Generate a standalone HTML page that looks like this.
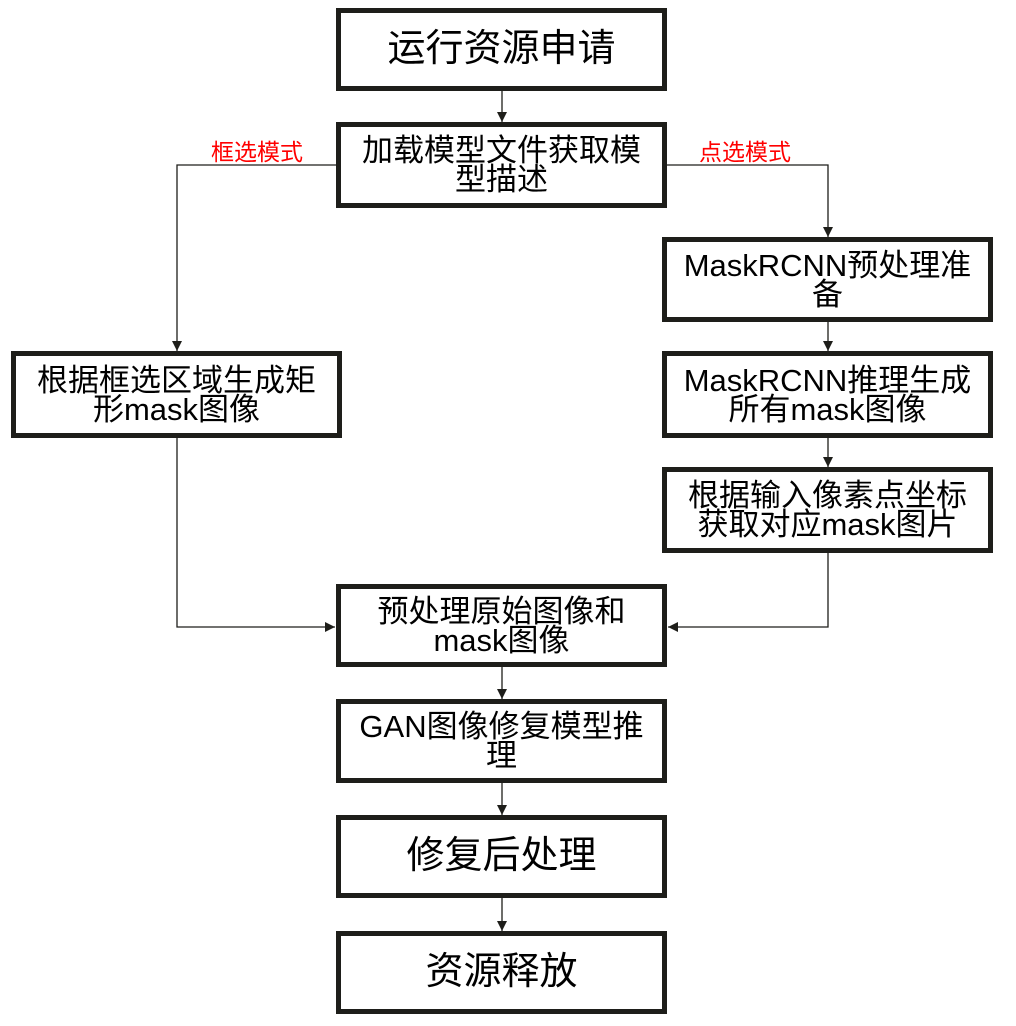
<!DOCTYPE html>
<html><head><meta charset="utf-8"><style>
body{margin:0;width:1016px;height:1026px;background:#fff;position:relative;overflow:hidden;font-family:"Liberation Sans","Noto Sans CJK SC",sans-serif;}
.b{position:absolute;box-sizing:border-box;border:5px solid #1e1e1a;display:flex;align-items:center;justify-content:center;text-align:center;color:#000;font-size:31px;line-height:29px;white-space:nowrap;}
.big{font-size:38px;}
.l{position:absolute;color:#f00;font-size:23px;}
svg{position:absolute;left:0;top:0;}
</style></head><body>
<svg width="1016" height="1026">
<defs>
<marker id="h" viewBox="0 0 10 10" markerWidth="10" markerHeight="10" refX="10" refY="5" orient="auto" markerUnits="userSpaceOnUse"><path d="M0,0 L10,5 L0,10 z" fill="#1e1e1a"/></marker></defs>
<g stroke="#1e1e1a" stroke-width="1.3" fill="none">
<path d="M502,90 V122" marker-end="url(#h)"/>
<path d="M336,165 H177 V351" marker-end="url(#h)"/>
<path d="M667,165 H828 V237" marker-end="url(#h)"/>
<path d="M828,321 V351" marker-end="url(#h)"/>
<path d="M828,437 V467" marker-end="url(#h)"/>
<path d="M177,437 V627 H335" marker-end="url(#h)"/>
<path d="M828,552 V627 H668" marker-end="url(#h)"/>
<path d="M502,666 V699" marker-end="url(#h)"/>
<path d="M502,782 V815" marker-end="url(#h)"/>
<path d="M502,897 V931" marker-end="url(#h)"/>
</g></svg>
<div class="b big" style="left:336px;top:8px;width:331px;height:83px">运行资源申请</div>
<div class="b" style="left:336px;top:122px;width:331px;height:86px">加载模型文件获取模<br>型描述</div>
<div class="b" style="left:662px;top:237px;width:331px;height:85px">MaskRCNN预处理准<br>备</div>
<div class="b" style="left:11px;top:351px;width:331px;height:87px">根据框选区域生成矩<br>形mask图像</div>
<div class="b" style="left:662px;top:351px;width:331px;height:87px">MaskRCNN推理生成<br>所有mask图像</div>
<div class="b" style="left:662px;top:467px;width:331px;height:86px">根据输入像素点坐标<br>获取对应mask图片</div>
<div class="b" style="left:336px;top:584px;width:331px;height:83px">预处理原始图像和<br>mask图像</div>
<div class="b" style="left:336px;top:699px;width:331px;height:84px">GAN图像修复模型推<br>理</div>
<div class="b big" style="left:336px;top:815px;width:331px;height:83px">修复后处理</div>
<div class="b big" style="left:336px;top:931px;width:331px;height:83px">资源释放</div>
<div class="l" style="left:211px;top:133px">框选模式</div>
<div class="l" style="left:699px;top:133px">点选模式</div>
</body></html>
